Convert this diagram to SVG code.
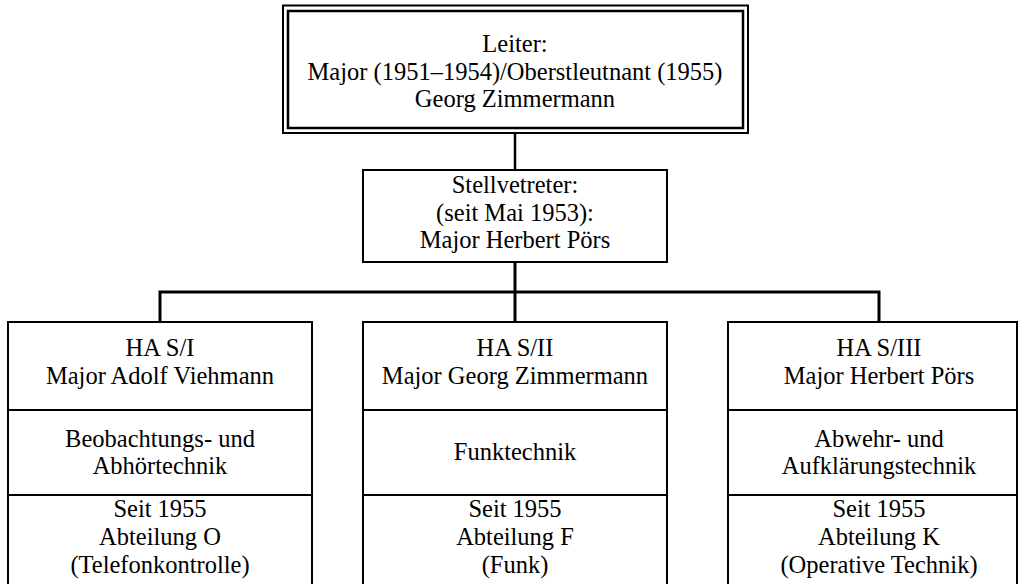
<svg xmlns="http://www.w3.org/2000/svg" width="1024" height="584" viewBox="0 0 1024 584">
  <style>
    .box { fill: #ffffff; stroke: #000000; stroke-width: 2; }
    .outer { fill: #ffffff; stroke: #000000; stroke-width: 2; }
    .inner { fill: none; stroke: #000000; stroke-width: 2.5; }
    .div { stroke: #000000; stroke-width: 2; }
    .conn { stroke: #000000; stroke-width: 2.5; fill: none; }
    .thick { stroke: #000000; stroke-width: 3; fill: none; }
    text { font-family: "Liberation Serif", "Times New Roman", serif; font-size: 24.5px; fill: #000000; text-anchor: middle; }
  </style>
  <rect width="1024" height="584" fill="#ffffff"/>

  <!-- connectors -->
  <g id="connectors">
    <line class="conn" x1="515" y1="133" x2="515" y2="170"/>
    <line class="thick" x1="515" y1="262" x2="515" y2="322"/>
    <polyline class="thick" points="160,322 160,292 879,292 879,322"/>
  </g>

  <!-- head of department -->
  <g id="leiter">
    <rect class="outer" x="283" y="5.5" width="465" height="127.5"/>
    <rect class="inner" x="288" y="11" width="455" height="117"/>
    <text x="515" y="52">Leiter:</text>
    <text x="515" y="80">Major (1951–1954)/Oberstleutnant (1955)</text>
    <text x="515" y="107">Georg Zimmermann</text>
  </g>

  <!-- deputy -->
  <g id="stellvertreter">
    <rect class="box" x="363" y="170" width="304" height="92"/>
    <text x="515" y="193">Stellvetreter:</text>
    <text x="515" y="221">(seit Mai 1953):</text>
    <text x="515" y="248">Major Herbert Pörs</text>
  </g>

  <!-- main departments -->
  <g id="ha-s-1">
    <rect class="box" x="8" y="322" width="304" height="270"/>
    <line class="div" x1="8" y1="410" x2="312" y2="410"/>
    <line class="div" x1="8" y1="495" x2="312" y2="495"/>
    <text x="160" y="356">HA S/I</text>
    <text x="160" y="384">Major Adolf Viehmann</text>
    <text x="160" y="447">Beobachtungs- und</text>
    <text x="160" y="474">Abhörtechnik</text>
    <text x="160" y="517">Seit 1955</text>
    <text x="160" y="545">Abteilung O</text>
    <text x="160" y="573">(Telefonkontrolle)</text>
  </g>

  <g id="ha-s-2">
    <rect class="box" x="363" y="322" width="304" height="270"/>
    <line class="div" x1="363" y1="410" x2="667" y2="410"/>
    <line class="div" x1="363" y1="495" x2="667" y2="495"/>
    <text x="515" y="356">HA S/II</text>
    <text x="515" y="384">Major Georg Zimmermann</text>
    <text x="515" y="460">Funktechnik</text>
    <text x="515" y="517">Seit 1955</text>
    <text x="515" y="545">Abteilung F</text>
    <text x="515" y="573">(Funk)</text>
  </g>

  <g id="ha-s-3">
    <rect class="box" x="728" y="322" width="289" height="270"/>
    <line class="div" x1="728" y1="410" x2="1017" y2="410"/>
    <line class="div" x1="728" y1="495" x2="1017" y2="495"/>
    <text x="879" y="356">HA S/III</text>
    <text x="879" y="384">Major Herbert Pörs</text>
    <text x="879" y="447">Abwehr- und</text>
    <text x="879" y="474">Aufklärungstechnik</text>
    <text x="879" y="517">Seit 1955</text>
    <text x="879" y="545">Abteilung K</text>
    <text x="879" y="573">(Operative Technik)</text>
  </g>
</svg>
